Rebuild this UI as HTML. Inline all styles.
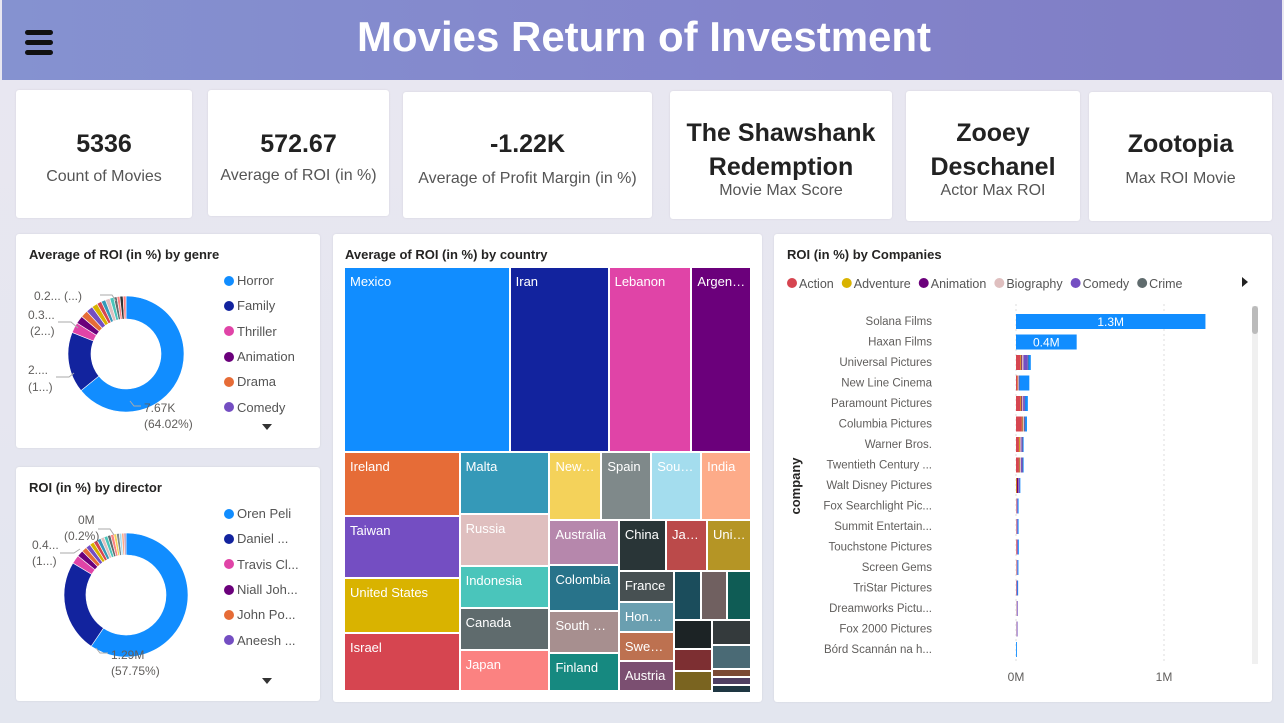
<!DOCTYPE html>
<html><head><meta charset="utf-8"><style>
*{box-sizing:border-box;margin:0;padding:0}
body{width:1284px;height:723px;overflow:hidden;font-family:"Liberation Sans",sans-serif;background:linear-gradient(180deg,#e9e7f1,#e3e6ef);position:relative}
.hdr{position:absolute;left:2px;top:0;width:1280px;height:80px;background:linear-gradient(90deg,#8592d0,#8384cb 60%,#7f7dc4)}
.hdr h1{position:absolute;left:0;width:1284px;top:13px;text-align:center;color:#fff;font-size:42px;font-weight:bold}
.ham{position:absolute;left:23px;top:30px;width:28px}
.ham i{display:block;height:5px;background:#111;border-radius:3px;margin-bottom:5px}
.card{position:absolute;background:#fff;border-radius:3px;box-shadow:0 0 2px rgba(0,0,0,.08)}
.kv{position:absolute;left:0;right:0;text-align:center;color:#222;font-weight:bold}
.kl{position:absolute;left:0;right:0;text-align:center;color:#555;font-size:16px}
.ttl{position:absolute;left:13px;top:13px;font-size:13px;font-weight:bold;color:#252423}
.leg{position:absolute;font-size:13px;color:#555}
.leg div{height:25.3px;display:flex;align-items:center;white-space:nowrap}
.leg span{display:inline-block;width:10px;height:10px;border-radius:50%;margin-right:3px}
.tm{position:absolute;overflow:hidden;color:#fff;font-size:13px;padding:6px 0 0 5px;white-space:nowrap;text-overflow:ellipsis;border:1px solid #fff}
</style></head><body>
<div class="hdr">
<div class="ham"><i></i><i></i><i></i></div>
<h1>Movies Return of Investment</h1></div>

<div class="card" style="left:16px;top:90px;width:176px;height:128px"><div class="kv" style="top:40px;font-size:25px">5336</div><div class="kl" style="top:78px">Count of Movies</div></div>
<div class="card" style="left:208px;top:90px;width:181px;height:126px"><div class="kv" style="top:40px;font-size:25px">572.67</div><div class="kl" style="top:77px">Average of ROI (in %)</div></div>
<div class="card" style="left:403px;top:92px;width:249px;height:126px"><div class="kv" style="top:38px;font-size:25px">-1.22K</div><div class="kl" style="top:78px">Average of Profit Margin (in %)</div></div>
<div class="card" style="left:670px;top:91px;width:222px;height:128px"><div class="kv" style="top:25px;font-size:25px;line-height:34px">The Shawshank<br>Redemption</div><div class="kl" style="top:91px">Movie Max Score</div></div>
<div class="card" style="left:906px;top:91px;width:174px;height:130px"><div class="kv" style="top:25px;font-size:25px;line-height:34px">Zooey<br>Deschanel</div><div class="kl" style="top:91px">Actor Max ROI</div></div>
<div class="card" style="left:1089px;top:92px;width:183px;height:129px"><div class="kv" style="top:38px;font-size:25px">Zootopia</div><div class="kl" style="top:78px">Max ROI Movie</div></div>

<div class="card" style="left:16px;top:234px;width:304px;height:214px">
<div class="ttl">Average of ROI (in %) by genre</div>
<svg id="g1" width="304" height="214" style="position:absolute;left:0;top:0"></svg>
<div class="leg" style="left:208px;top:34px">
<div><span style="background:#118DFF"></span>Horror</div><div><span style="background:#12239E"></span>Family</div><div><span style="background:#E044A7"></span>Thriller</div><div><span style="background:#6B007B"></span>Animation</div><div><span style="background:#E66C37"></span>Drama</div><div><span style="background:#744EC2"></span>Comedy</div></div>
<div style="position:absolute;left:246px;top:190px;border:5px solid transparent;border-top:6px solid #333"></div>
</div>

<div class="card" style="left:16px;top:467px;width:304px;height:234px">
<div class="ttl">ROI (in %) by director</div>
<svg id="g2" width="304" height="234" style="position:absolute;left:0;top:0"></svg>
<div class="leg" style="left:208px;top:34px">
<div><span style="background:#118DFF"></span>Oren Peli</div><div><span style="background:#12239E"></span>Daniel ...</div><div><span style="background:#E044A7"></span>Travis Cl...</div><div><span style="background:#6B007B"></span>Niall Joh...</div><div><span style="background:#E66C37"></span>John Po...</div><div><span style="background:#744EC2"></span>Aneesh ...</div></div>
<div style="position:absolute;left:246px;top:211px;border:5px solid transparent;border-top:6px solid #333"></div>
</div>

<div class="card" style="left:333px;top:234px;width:429px;height:468px">
<div class="ttl" style="left:12px">Average of ROI (in %) by country</div>
<div id="tm" style="position:absolute;left:11px;top:33px;width:407px;height:424px"></div>
</div>

<div class="card" style="left:774px;top:234px;width:498px;height:468px">
<div class="ttl">ROI (in %) by Companies</div>
<svg id="cb" width="498" height="468" style="position:absolute;left:0;top:0"></svg>
</div>

<script>
const NS='http://www.w3.org/2000/svg';
function mk(p,t,a){const e=document.createElementNS(NS,t);for(const k in a)e.setAttribute(k,a[k]);p.appendChild(e);return e;}
function arc(cx,cy,r0,r1,a0,a1){const f=(r,a)=>[cx+r*Math.sin(a),cy-r*Math.cos(a)];const l=a1-a0>Math.PI?1:0;const[p1,p2,p3,p4]=[f(r1,a0),f(r1,a1),f(r0,a1),f(r0,a0)];return `M${p1}A${r1},${r1} 0 ${l} 1 ${p2}L${p3}A${r0},${r0} 0 ${l} 0 ${p4}Z`;}

const genreNames=['Horror','Family','Thriller','Animation','Drama','Comedy','Adventure','Action','Crime','Biography','Mystery','Fantasy','Sci-Fi','Western','Romance'];
const genreValues=[64.02,16.9,2.9,2.2,2.0,1.9,1.6,1.3,1.2,1.3,1.1,0.9,0.8,0.9,0.8];
const genreColors=['#118DFF','#12239E','#E044A7','#6B007B','#E66C37','#744EC2','#D9B300','#D64550','#3599B8','#DFBFBF','#4AC5BB','#5F6B6D','#FB8281','#333','#FF8080'];
const dirNames=['Oren Peli','Daniel Myrick','Travis Cluff','Niall Johnson','John Powers','Aneesh Chaganty','Others'];
const dirValues=[57.75,23.4,2.2,1.6,1.3,1.2,1.1,1,1,0.9,0.9,0.8,0.8,0.7,0.7,0.6,0.6,0.5];
const dirColors=['#118DFF','#12239E','#E044A7','#6B007B','#E66C37','#744EC2','#D9B300','#D64550','#3599B8','#DFBFBF','#4AC5BB','#5F6B6D','#FB8281','#F4D25A','#7F898A','#A4DDEE','#FDAB89','#B687AC'];

function donut(svg,vals,cols,cx,cy,r0,r1,name){const tot=vals.reduce((a,b)=>a+b,0);let a=0;vals.forEach((v,i)=>{const b=a+v/tot*2*Math.PI;const p=mk(svg,'path',{d:arc(cx,cy,r0,r1,a,b),fill:cols[i],stroke:'#fff','stroke-width':0.6});


a=b;});}
const g1=document.getElementById('g1');
donut(g1,genreValues,genreColors,110,120,35,58,'genre');
const g2=document.getElementById('g2');
donut(g2,dirValues,dirColors,110,128,40,62,'director');
function lbl(svg,x,y,t,anchor){const e=mk(svg,'text',{x:x,y:y,'font-size':12,fill:'#605e5c','text-anchor':anchor||'start'});e.textContent=t;

}
function ln(svg,pts){mk(svg,'polyline',{points:pts,fill:'none',stroke:'#aaa','stroke-width':1});}
lbl(g1,128,178,'7.67K');lbl(g1,128,194,'(64.02%)');ln(g1,'125,172 118,172 114,167');
lbl(g1,12,140,'2....');lbl(g1,12,157,'(1...)');ln(g1,'40,143 53,143 58,139');
lbl(g1,12,85,'0.3...');lbl(g1,14,101,'(2...)');ln(g1,'42,88 55,88 62,94');
lbl(g1,18,66,'0.2... (...)');ln(g1,'84,61 96,61 100,67');
lbl(g2,95,192,'1.29M');lbl(g2,95,208,'(57.75%)');ln(g2,'92,186 84,186 80,181');
lbl(g2,16,82,'0.4...');lbl(g2,16,98,'(1...)');ln(g2,'44,86 58,86 64,82');
lbl(g2,62,57,'0M');lbl(g2,48,73,'(0.2%)');ln(g2,'82,62 94,62 98,68');

const countries=['Mexico','Iran','Lebanon','Argentina','Ireland','Taiwan','United States','Israel','Malta','Russia','Indonesia','Canada','Japan','New Zealand','Spain','South Africa','India','Australia','Colombia','South Korea','Finland','China','Jamaica','United Kingdom','France','Hong Kong','Sweden','Austria','Chile','Brazil','Denmark','Germany','Belgium','Italy','Norway','Hungary','Netherlands','Poland','Peru'];
const countryValues=[29848,17836,14924,10738,7296,6954,6270,6498,5518,4539,3649,3738,3560,3468,3332,3332,3332,3036,3105,2898,2553,2346,2040,2193,1650,1595,1595,1595,1326,1224,1173,1035,812,945,754,940,300,280,250];
const countryColors=['#118DFF','#12239E','#E044A7','#6B007B','#E66C37','#744EC2','#D9B300','#D64550','#3599B8','#DFBFBF','#4AC5BB','#5F6B6D','#FB8281','#F4D25A','#7F898A','#A4DDEE','#FDAB89','#B687AC','#28738A','#A78F8F','#168980','#293537','#BB4A4A','#B59525','#475052','#6A9FB0','#BD7150','#7B4F71','#1B4D5C','#706060','#0F5C55','#1C2325','#7D2F32','#343A3C','#7A6420','#4A6A75','#7B4A35','#4F3F62','#1E3642'];
const treemapGroups=[[0,1,2,3],[4,5,6,7],[8,9,10,11,12],[13,14,15,16],[17,18,19,20],[21,22,23],[24,25,26,27],[28,29,30],[31,32,34],[33,35,36,37,38]];
const groupDirs=['h','v','v','h','v','h','v','h','v','v'];
(function(){
let x=0,y=0,w=407,h=424;const out=[];
let remaining=countryValues.reduce((a,b)=>a+b,0);
treemapGroups.forEach((g,gi)=>{const sum=g.reduce((a,i)=>a+countryValues[i],0);const frac=sum/remaining;
if(groupDirs[gi]==='h'){const rh=h*frac;let cx=x;g.forEach(i=>{const rw=w*countryValues[i]/sum;out.push([i,cx,y,rw,rh]);cx+=rw});y+=rh;h-=rh;}
else{const rw=w*frac;let cy=y;g.forEach(i=>{const rh=h*countryValues[i]/sum;out.push([i,x,cy,rw,rh]);cy+=rh});x+=rw;w-=rw;}
remaining-=sum;});
const tm=document.getElementById('tm');
out.forEach(([i,rx,ry,rw,rh])=>{const d=document.createElement('div');d.className='tm';


d.style.cssText=`left:${rx}px;top:${ry}px;width:${rw}px;height:${rh}px;background:${countryColors[i]}`;
if(rw>40&&rh>22){d.textContent=countries[i];d.style.paddingRight='4px';}
tm.appendChild(d);});
})();

const companies=['Solana Films','Haxan Films','Universal Pictures','New Line Cinema','Paramount Pictures','Columbia Pictures','Warner Bros.','Twentieth Century ...','Walt Disney Pictures','Fox Searchlight Pic...','Summit Entertain...','Touchstone Pictures','Screen Gems','TriStar Pictures','Dreamworks Pictu...','Fox 2000 Pictures','Bórd Scannán na h...'];
const genreKeys=['Action','Adventure','Animation','Biography','Comedy','Crime','Horror'];
const segColors=['#D64550','#D9B300','#6B007B','#DFBFBF','#744EC2','#5F6B6D','#118DFF'];
const segAction=[0,0,0.03,0.01,0.03,0.04,0.02,0.02,0.002,0.002,0.002,0.004,0.002,0.002,0,0,0];
const segAdventure=[0,0,0.006,0.002,0.006,0.004,0.006,0.004,0.004,0,0,0,0,0,0,0,0];
const segAnimation=[0,0,0.006,0,0.006,0.002,0.002,0.002,0.01,0,0,0,0,0,0,0,0];
const segBiography=[0,0,0.008,0.006,0.006,0.008,0.008,0.008,0.002,0.004,0.004,0.004,0.006,0.003,0.006,0.005,0];
const segComedy=[0,0,0.03,0.004,0.012,0.004,0.008,0.01,0.006,0.006,0.006,0.006,0.003,0.004,0.003,0.003,0];
const segCrime=[0,0,0.004,0.002,0.002,0.004,0.002,0.002,0,0,0,0,0,0,0,0,0];
const segHorror=[1.28,0.41,0.016,0.066,0.018,0.012,0.004,0.004,0.002,0.004,0.004,0.002,0.003,0.002,0,0,0.006];
const segs=[segAction,segAdventure,segAnimation,segBiography,segComedy,segCrime,segHorror];
const xTicks=[0,1];const xTickLabels=['0M','1M'];
(function(){
const s=document.getElementById('cb');
const X=v=>242+v*148;const Y=i=>87+i*20.5;
let lx=13;genreKeys.slice(0,6).forEach((g,i)=>{const c=mk(s,'circle',{cx:lx+5,cy:49,r:5,fill:segColors[i]});


const t=mk(s,'text',{x:lx+12,y:54,'font-size':12.5,fill:'#555'});t.textContent=g;


lx+=12+t.getComputedTextLength()+8;});
const ar=mk(s,'path',{d:'M468,43 L474,48 L468,53Z',fill:'#222'});


xTicks.forEach((t,i)=>{const l=mk(s,'line',{x1:X(t),x2:X(t),y1:70,y2:430,stroke:'#ddd','stroke-dasharray':'2,3'});


const tx=mk(s,'text',{x:X(t),y:447,'font-size':12,fill:'#605e5c','text-anchor':'middle'});tx.textContent=xTickLabels[i];

});
companies.forEach((c,i)=>{const t=mk(s,'text',{x:158,y:Y(i)+4,'font-size':11.5,fill:'#605e5c','text-anchor':'end'});t.textContent=c;


let acc=0;segs.forEach((arr,g)=>{const v=arr[i];if(v<=0)return;const r=mk(s,'rect',{x:X(acc),y:Y(i)-7,width:Math.max(X(acc+v)-X(acc),0.8),height:15,fill:segColors[g]});


acc+=v;});
if(acc>0.3){const vt=mk(s,'text',{x:(X(0)+X(acc))/2,y:Y(i)+5,'font-size':12,fill:'#fff','text-anchor':'middle'});vt.textContent=acc.toFixed(1)+'M';

}});
const yt=mk(s,'text',{x:0,y:0,'font-size':13,'font-weight':'bold',fill:'#252423',transform:'translate(26,252) rotate(-90)','text-anchor':'middle'});yt.textContent='company';


mk(s,'line',{x1:481,x2:481,y1:72,y2:430,stroke:'#f0f0f0','stroke-width':6});
const sb=mk(s,'rect',{x:478,y:72,width:6,height:28,rx:3,fill:'#bbb'});


})();
</script>
</body></html>
